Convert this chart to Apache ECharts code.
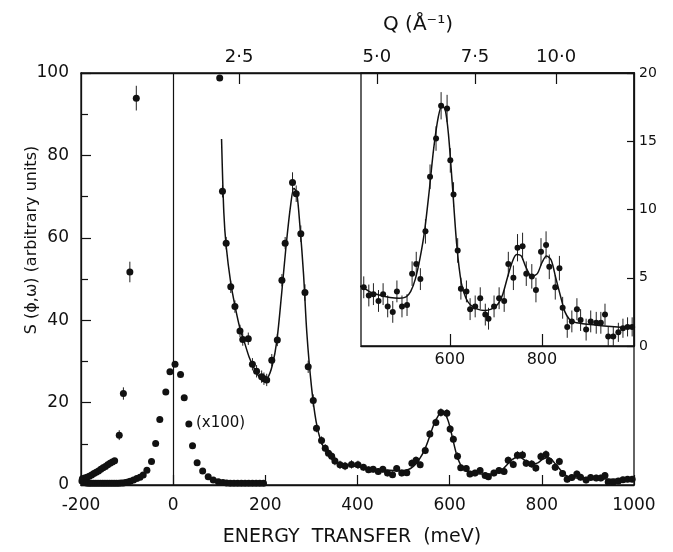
<!DOCTYPE html>
<html><head><meta charset="utf-8">
<script src="https://cdn.jsdelivr.net/npm/echarts@6/dist/echarts.min.js"></script>
<style>html,body{margin:0;padding:0;background:#fff}#c{width:673px;height:552px}</style>
</head><body><div id="c"></div>
<script>
// ---- data ----
// quasi-elastic tail at negative energy transfer
const elasticE   = [-197,-192,-187,-182,-177,-172,-167,-162,-157,-152,-147,-142,-137,-132,-127,-117,-108,-94,-80];
const elasticV   = [1.5,1.7,1.9,2.1,2.4,2.8,3.1,3.4,3.8,4.2,4.5,4.9,5.3,5.6,5.9,12.1,22.2,51.7,93.9];
const elasticErr = [0.3,0.3,0.3,0.3,0.3,0.3,0.3,0.3,0.3,0.3,0.3,0.3,0.3,0.3,0.4,1.2,1.5,2.5,3.0];
// elastic peak scaled by 1/100 ("(x100)")
const x100E = [-198,-193,-188,-183,-178,-173,-168,-163,-158,-153,-148,-143,-138,-133,-128,-123,-118,-113,-108,-103,-98,-93,-86,-79,-72,-65,-57,-47,-38,-29,-16,-7,4,16,24,34,42,52,64,76,87,98,108,116,124,132,140,148,156,164,172,180,188,196];
const x100V = [1.0,0.6,0.5,0.4,0.4,0.4,0.4,0.4,0.4,0.4,0.4,0.4,0.4,0.4,0.4,0.4,0.4,0.5,0.5,0.6,0.7,0.9,1.2,1.6,1.9,2.4,3.6,5.7,10.1,15.9,22.6,27.5,29.3,26.8,21.2,14.8,9.5,5.4,3.4,2.0,1.2,0.8,0.6,0.5,0.4,0.4,0.4,0.4,0.4,0.4,0.4,0.4,0.4,0.4];
// inelastic data
const inelE = [101,107,115,125,134,145,151,163,172,181,192,197,203,214,226,236,243,259,267,277,286,293,304,311,322,330,337,344,351,362,373,387,401,
  413,424,434,445,455,465,476,485,496,507,518,527,536,547,557,570,581,594,601,608,617,624,636,644,655,666,677,684,696,707,718,727,738,747,758,766,778,787,798,809,816,829,838,845,855,865,876,884,896,906,918,928,937,944,955,966,976,986,996];
const inelV = [98.8,71.3,58.7,48.1,43.3,37.4,35.3,35.5,29.3,27.6,26.3,25.8,25.5,30.3,35.2,49.7,58.7,73.4,70.7,61.0,46.7,28.7,20.5,13.8,10.8,8.9,7.7,7.0,5.8,4.9,4.6,5.0,4.9,
  4.3,3.7,3.8,3.3,3.8,2.9,2.5,4.0,2.9,3.0,5.3,6.0,4.9,8.4,12.4,15.2,17.6,17.4,13.6,11.1,7.0,4.2,4.0,2.7,2.9,3.5,2.3,2.0,2.9,3.5,3.3,6.0,5.0,7.2,7.3,5.3,5.1,4.1,6.9,7.4,5.8,4.3,5.7,2.8,1.4,1.8,2.7,1.9,1.2,1.8,1.7,1.7,2.3,0.7,0.7,1.0,1.3,1.4,1.4];
const inelErr = [0,1.5,1.5,1.5,1.5,1.5,1.5,1.5,1.5,1.5,1.5,1.5,1.5,1.5,1.5,1.5,1.5,2.5,2.0,2.0,2.0,1.5,1.5,1.0,1.0,1.0,1.0,1.0,1.0,1.0,1.0,1.0,1.0,
  0.8,0.8,0.8,0.8,0.8,0.8,0.8,0.8,0.8,0.8,0.9,0.9,0.8,0.9,0.9,0.9,1.0,1.0,0.9,0.9,0.9,0.8,0.8,0.8,0.8,0.8,0.8,0.8,0.8,0.8,0.8,0.9,0.9,1.0,1.0,0.9,0.9,0.9,1.0,1.0,0.9,0.9,0.9,0.8,0.8,0.8,0.8,0.8,0.8,0.8,0.8,0.8,0.8,0.7,0.7,0.7,0.7,0.7,0.7];
// fitted curve
const fitE = [105,110,115,125,135,145,155,165,175,185,195,205,215,225,235,245,255,262,268,275,283,290,300,310,320,330,340,350,360,375,390,410,430,450,470,490,505,515,525,535,545,555,565,575,583,590,597,605,615,625,635,645,660,675,690,705,715,725,735,745,755,765,778,790,800,810,820,830,840,850,860,870,885,900,925,950,975,1000];
const fitV = [84,66,58,49,43,38,34.5,31,28.5,26.5,25.5,26,29,35,46,58,68,72,71,63,51,37,24,15.5,10.8,8.5,7,6,5.3,4.8,4.6,4.3,3.9,3.7,3.55,3.5,3.6,4.0,4.9,6.4,8.4,11.3,14.5,16.8,17.6,17.3,15.5,12,7.4,4.6,3.5,3.0,2.7,2.6,2.7,3.1,3.8,5.0,6.1,6.7,6.6,5.8,5.1,5.3,6.1,6.6,6.3,5.0,3.7,2.5,1.95,1.75,1.65,1.6,1.5,1.42,1.35,1.3];
// top momentum-transfer scale: energy positions of Q ticks
const qPos    = [143, 442, 655, 831];
const qLabels = ['2·5', '5·0', '7·5', '10·0'];
const insetTicks = [600, 800];

// ---- chart ----
const FONT = 'DejaVu Sans';
const INK = '#111';
const zip3 = (a, b, c) => a.map((v, i) => [v, b[i], c ? c[i] : 0]);
const zip2 = (a, b) => a.map((v, i) => [v, b[i]]);
const inelAll = zip3(inelE, inelV, inelErr);
const inelInset = inelAll.filter(d => d[0] >= 407);
const plain = v => String(v);

function errRender(params, api) {
  const x = api.value(0), y = api.value(1), e = api.value(2);
  if (!e) return null;
  const p1 = api.coord([x, y - e]), p2 = api.coord([x, y + e]);
  return { type: 'line', shape: { x1: p1[0], y1: p1[1], x2: p2[0], y2: p2[1] },
           style: { stroke: '#222', lineWidth: 1 } };
}
const dot = { color: INK, opacity: 1 };

const chart = echarts.init(document.getElementById('c'));
chart.setOption({
  animation: false,
  backgroundColor: '#fff',
  grid: [
    { left: 81, right: 39, top: 73, bottom: 67, show: true, borderColor: INK, borderWidth: 1.3 },
    { left: 361, right: 39, top: 73, bottom: 206, show: true, borderColor: INK, borderWidth: 1.3 }
  ],
  xAxis: [
    { gridIndex: 0, type: 'value', position: 'bottom', min: -200, max: 1000, interval: 200,
      axisLine: { onZero: false, lineStyle: { color: INK, width: 1.3 } },
      axisTick: { inside: true, length: 10, lineStyle: { color: INK, width: 1.2 } },
      axisLabel: { color: INK, fontFamily: FONT, fontSize: 17, margin: 12, formatter: plain },
      splitLine: { show: false } },
    { gridIndex: 0, type: 'value', position: 'top', min: -200, max: 1000,
      axisLine: { onZero: false, lineStyle: { color: INK, width: 1.3 } },
      axisTick: { inside: true, length: 11, customValues: qPos, lineStyle: { color: INK, width: 1.2 } },
      axisLabel: { color: INK, fontFamily: FONT, fontSize: 18, margin: 7, customValues: qPos,
        formatter: v => { const i = qPos.indexOf(v); return i >= 0 ? qLabels[i] : ''; } },
      splitLine: { show: false } },
    { gridIndex: 1, type: 'value', position: 'bottom', min: 407, max: 1000,
      axisLine: { onZero: false, lineStyle: { color: INK, width: 1.3 } },
      axisTick: { inside: true, length: 12, customValues: insetTicks, lineStyle: { color: INK, width: 1.2 } },
      axisLabel: { color: INK, fontFamily: FONT, fontSize: 16, margin: 6, customValues: insetTicks, formatter: plain },
      splitLine: { show: false } }
  ],
  yAxis: [
    { gridIndex: 0, type: 'value', position: 'left', min: 0, max: 100, interval: 20,
      axisLine: { show: true, onZero: false, lineStyle: { color: INK, width: 1.3 } },
      axisTick: { show: true, inside: true, length: 10, lineStyle: { color: INK, width: 1.2 } },
      minorTick: { show: true, splitNumber: 2, length: 7, lineStyle: { color: INK, width: 1.2 } },
      axisLabel: { color: INK, fontFamily: FONT, fontSize: 17, margin: 12 },
      splitLine: { show: false } },
    { gridIndex: 1, type: 'value', position: 'right', min: 0, max: 20, interval: 5,
      axisLine: { show: true, onZero: false, lineStyle: { color: INK, width: 1.3 } },
      axisTick: { show: true, inside: true, length: 7, lineStyle: { color: INK, width: 1.2 } },
      axisLabel: { color: INK, fontFamily: FONT, fontSize: 14, margin: 5 },
      splitLine: { show: false } }
  ],
  series: [
    { type: 'custom', xAxisIndex: 0, yAxisIndex: 0, renderItem: errRender, data: zip3(elasticE, elasticV, elasticErr), clip: true, z: 2 },
    { type: 'scatter', xAxisIndex: 0, yAxisIndex: 0, data: zip2(elasticE, elasticV), symbolSize: 7, itemStyle: dot, z: 3 },
    { type: 'scatter', xAxisIndex: 0, yAxisIndex: 0, data: zip2(x100E, x100V), symbolSize: 7, itemStyle: dot, z: 3 },
    { type: 'custom', xAxisIndex: 0, yAxisIndex: 0, renderItem: errRender, data: inelAll, clip: true, z: 2 },
    { type: 'scatter', xAxisIndex: 0, yAxisIndex: 0, data: zip2(inelE, inelV), symbolSize: 7, itemStyle: dot, z: 3 },
    { type: 'line', xAxisIndex: 0, yAxisIndex: 0, data: zip2(fitE, fitV), smooth: 0.3, showSymbol: false,
      lineStyle: { color: INK, width: 1.5 }, z: 2,
      markLine: { silent: true, symbol: 'none', label: { show: false },
        lineStyle: { color: INK, width: 1.2, type: 'solid' }, data: [{ xAxis: 0 }] } },
    { type: 'custom', xAxisIndex: 2, yAxisIndex: 1, renderItem: errRender, data: inelInset, clip: true, z: 2 },
    { type: 'scatter', xAxisIndex: 2, yAxisIndex: 1, data: inelInset.map(d => [d[0], d[1]]), symbolSize: 6, itemStyle: dot, z: 3 },
    { type: 'line', xAxisIndex: 2, yAxisIndex: 1, data: zip2(fitE, fitV).filter(d => d[0] >= 390), smooth: 0.3, showSymbol: false, clip: true,
      lineStyle: { color: INK, width: 1.5 }, z: 2 }
  ],
  graphic: [
    { type: 'text', x: 32, y: 240, rotation: Math.PI / 2,
      style: { text: 'S (ϕ,ω) (arbitrary units)', fill: INK, font: '16px "DejaVu Sans"', align: 'center', verticalAlign: 'middle' } },
    { type: 'text', x: 352, y: 537,
      style: { text: 'ENERGY  TRANSFER  (meV)', fill: INK, font: '19px "DejaVu Sans"', align: 'center', verticalAlign: 'middle' } },
    { type: 'text', x: 418, y: 25,
      style: { text: 'Q (Å⁻¹)', fill: INK, font: '20px "DejaVu Sans"', align: 'center', verticalAlign: 'middle' } },
    { type: 'text', x: 196, y: 423,
      style: { text: '(x100)', fill: INK, font: '15px "DejaVu Sans"', align: 'left', verticalAlign: 'middle' } }
  ]
});
</script>
</body></html>
